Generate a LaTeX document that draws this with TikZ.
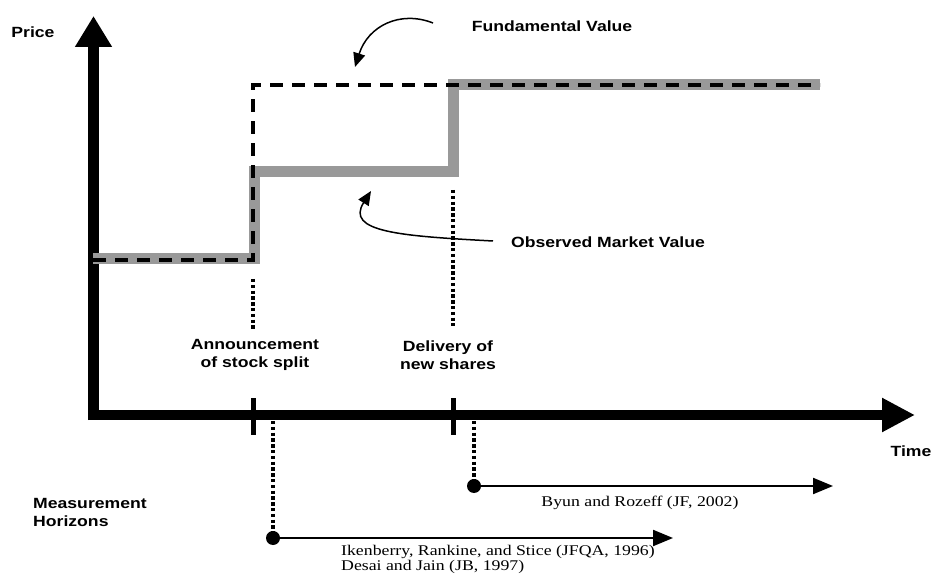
\documentclass[tikz,border=0pt]{standalone}
\usepackage{fontspec}
\setmainfont{Liberation Serif}[FakeStretch=1.2]
\newfontfamily\lab{Liberation Sans}[FakeStretch=1.19]
\usetikzlibrary{arrows.meta}
\definecolor{stepgray}{RGB}{153,153,153}
\tikzset{
  axisline/.style={line width=#1, black},
  bigtip/.style={-{Triangle[length=31pt,width=35pt]}},
  graystep/.style={line width=11pt, stepgray, line join=miter},
  fundline/.style={line width=3.8pt, black, dash pattern=on 13pt off 9pt},
  dotline/.style={line width=3.5pt, black, dash pattern=on 3.4pt off 2.4pt},
  tickline/.style={line width=5pt, black},
  pointer/.style={line width=1.5pt, black, -{Triangle[length=14pt,width=12pt]}},
  hzarrow/.style={line width=2.2pt, black, -{Triangle[length=20pt,width=16pt]}},
  dotnode/.style={circle, fill=black, inner sep=0pt, minimum size=14pt},
  sanslabel/.style={font=\lab\bfseries\fontsize{14.8}{18}\selectfont, inner sep=0pt, align=center},
  seriflabel/.style={font=\fontsize{14.8}{14.8}\selectfont, inner sep=0pt, align=left},
}
\begin{document}
\begin{tikzpicture}[x=1pt,y=-1pt]
\useasboundingbox (0,0) rectangle (932,577);
% key coordinates
\coordinate (ybot) at (93.5,420);
\coordinate (ytop) at (93.5,16);
\coordinate (xleft) at (88,415);
\coordinate (xright) at (915,415);
% axes
\draw[axisline=11pt, bigtip] (ybot) -- (ytop);
\draw[axisline=10pt, -{Triangle[length=33pt,width=32pt]}] (xleft) -- (xright);
% ticks
\coordinate (t1a) at (253,398); \coordinate (t1b) at (253,435);
\coordinate (t2a) at (453,398); \coordinate (t2b) at (453,435);
\draw[tickline] (t1a) -- (t1b);
\draw[tickline] (t2a) -- (t2b);
% observed market value (gray step)
\coordinate (g0) at (93,259);
\coordinate (g1) at (254,259);
\coordinate (g2) at (254,172);
\coordinate (g3) at (453,172);
\coordinate (g4) at (453,85);
\coordinate (g5) at (820,85);
\draw[graystep] (g0) -- (g1) -- (g2) -- (g3) -- (g4) -- (g5);
% fundamental value (dashed)
\coordinate (f0) at (93,260);
\coordinate (f1) at (253,260);
\coordinate (f2) at (253,85);
\coordinate (f3) at (820,85);
\draw[fundline] (f0) -- (f1) -- (f2) -- (f3);
% dotted event markers above axis
\coordinate (da1) at (253,279); \coordinate (da2) at (253,329);
\coordinate (db1) at (453,190); \coordinate (db2) at (453,326);
\draw[dotline] (da1) -- (da2);
\draw[dotline] (db1) -- (db2);
% event labels
\node[sanslabel] (ann) at (255,355) {Announcement\\of stock split};
\node[sanslabel] (del) at (448,355) {Delivery of\\new shares};
% axis labels
\node[sanslabel] (price) at (33,32) {Price};
\node[sanslabel] (time) at (911,451) {Time};
% curve labels and pointers
\node[sanslabel] (fund) at (552,26) {Fundamental Value};
\node[sanslabel] (obs) at (608,242) {Observed Market Value};
\coordinate (fs) at (433,23);
\coordinate (ft) at (355,67);
\draw[pointer] (fs) .. controls (400,10) and (368,26) .. (ft);
\coordinate (os) at (493,241);
\coordinate (ot) at (371,191);
\draw[pointer] (os) .. controls (400,236) and (345,232) .. (ot);
% measurement horizons
\node[sanslabel, anchor=west, align=left] (mh) at (33,512) {Measurement\\Horizons};
\node[dotnode] (d1) at (273,538) {};
\node[dotnode] (d2) at (474,486) {};
\coordinate (u1) at (273,421);
\coordinate (u2) at (474,421);
\draw[dotline] (u1) -- (d1.center);
\draw[dotline] (u2) -- (d2.center);
\coordinate (e1) at (673,538);
\coordinate (e2) at (833,486);
\draw[hzarrow] (d1.center) -- (e1);
\draw[hzarrow] (d2.center) -- (e2);
\node[seriflabel] (byun) at (640,503) {Byun and Rozeff (JF, 2002)};
\node[seriflabel, anchor=north west] (iken) at (341,545) {Ikenberry, Rankine, and Stice (JFQA, 1996)\\Desai and Jain (JB, 1997)};
\end{tikzpicture}
\end{document}
